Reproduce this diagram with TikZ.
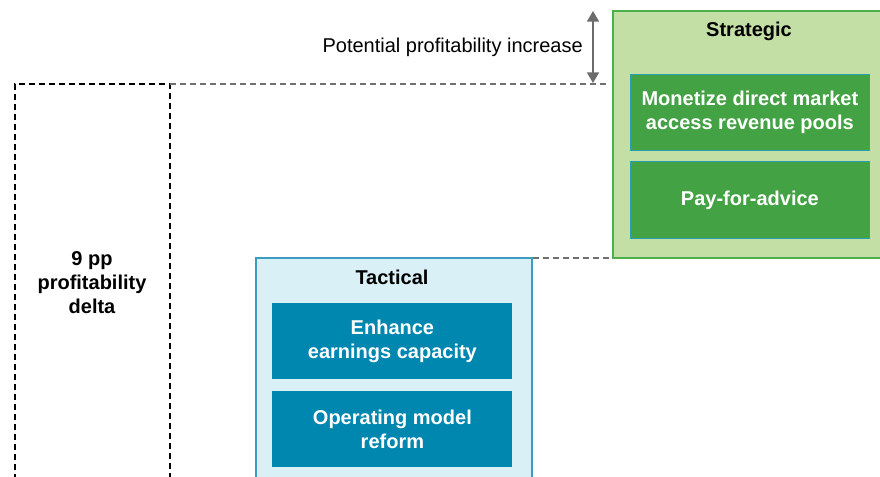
\documentclass[tikz,border=0pt]{standalone}
\usepackage{fontspec}
\setmainfont{Liberation Sans}
\usetikzlibrary{arrows.meta}
\definecolor{strfill}{HTML}{C4DFA6}
\definecolor{strdraw}{HTML}{4DAF4A}
\definecolor{strbox}{HTML}{43A244}
\definecolor{tacfill}{HTML}{D9F0F6}
\definecolor{tacdraw}{HTML}{3A9CC0}
\definecolor{tacbox}{HTML}{0087B0}
\definecolor{edgeteal}{HTML}{2A9FB0}
\definecolor{dashgray}{HTML}{707070}
\tikzset{
  panel/.style={draw, line width=1.2pt, inner sep=0pt},
  itembox/.style={draw=edgeteal, line width=0.6pt, inner sep=0pt, text=white, font=\bfseries\fontsize{15}{18}\selectfont, align=center},
  title/.style={font=\bfseries\fontsize{15}{18}\selectfont, inner sep=0pt},
  gdash/.style={draw=dashgray, line width=0.9pt, dash pattern=on 4.5pt off 3pt},
}
\begin{document}
\begin{tikzpicture}[x=0.75pt,y=-0.75pt]
\useasboundingbox (0,0) rectangle (880,477);
% left dashed box
\draw[black, line width=0.9pt, dash pattern=on 4.5pt off 3pt] (15,490) -- (15,84) -- (170,84) -- (170,490);
\node[title, align=center] (delta) at (92,283) {9 pp\\profitability\\delta};
% strategic panel
\node[panel, draw=strdraw, fill=strfill, minimum width=270*0.75pt, minimum height=247*0.75pt, anchor=north west] (strat) at (612,10) {};
\node[title] (stitle) at (749,31) {Strategic};
\node[itembox, fill=strbox, minimum width=239*0.75pt, minimum height=76*0.75pt, anchor=north west] (s1) at (630,74) {Monetize direct market\\access revenue pools};
\node[itembox, fill=strbox, minimum width=239*0.75pt, minimum height=77*0.75pt, anchor=north west] (s2) at (630,161) {Pay-for-advice};
% tactical panel
\node[panel, draw=tacdraw, fill=tacfill, minimum width=276*0.75pt, minimum height=240*0.75pt, anchor=north west] (tac) at (255,257) {};
\node[title] (ttitle) at (392,277) {Tactical};
\node[itembox, draw=none, fill=tacbox, minimum width=240*0.75pt, minimum height=76*0.75pt, anchor=north west] (t1) at (272,303) {Enhance\\earnings capacity};
\node[itembox, draw=none, fill=tacbox, minimum width=240*0.75pt, minimum height=76*0.75pt, anchor=north west] (t2) at (272,391) {Operating model\\reform};
% dashed level lines
\coordinate (topL) at (170,84);
\coordinate (topR) at (606,84);
\draw[gdash] (topL) -- (topR);
\coordinate (midL) at (533,258);
\coordinate (midR) at (610,258);
\draw[gdash] (midL) -- (midR);
% arrow
\coordinate (aTop) at (593,11);
\coordinate (aBot) at (593,83);
\draw[line width=1.2pt, {Triangle[length=8pt,width=9pt]}-{Triangle[length=8pt,width=9pt]}, color=gray!85!black] (aTop) -- (aBot);
\node[anchor=east, font=\fontsize{15}{18}\selectfont, inner sep=0pt] (pot) at (583,47) {Potential profitability increase};
\end{tikzpicture}
\end{document}
